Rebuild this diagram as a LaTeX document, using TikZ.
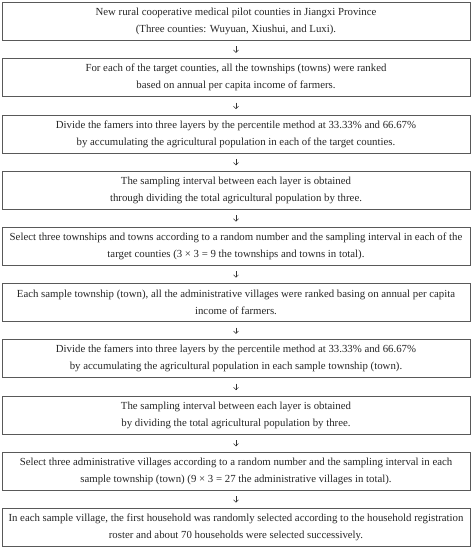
\documentclass[tikz,border=0pt]{standalone}
\usepackage{fontspec}
\setmainfont{Liberation Serif}
\usetikzlibrary{arrows.meta}
\tikzset{
  stepbox/.style={draw=black!65, line width=0.8pt, minimum width=468pt, minimum height=38pt,
    align=center, inner sep=0pt, text=black!85,
    font=\fontsize{10.8}{17}\selectfont},
  flowarrow/.style={draw=black!80, line width=0.5pt, shorten <=5.5pt, shorten >=5.5pt,
    -{Straight Barb[length=2.5pt,width=5pt]}}
}
\begin{document}
\begin{tikzpicture}[x=1pt,y=1pt]
\useasboundingbox (0,0) rectangle (472,-550);
\node[stepbox] (b1) at (236,-21.5) {New rural cooperative medical pilot counties in Jiangxi Province\\(Three counties: Wuyuan, Xiushui, and Luxi).};
\node[stepbox] (b2) at (236,-77.7) {For each of the target counties, all the townships (towns) were ranked\\based on annual per capita income of farmers.};
\node[stepbox] (b3) at (236,-133.9) {Divide the famers into three layers by the percentile method at 33.33\% and 66.67\%\\by accumulating the agricultural population in each of the target counties.};
\node[stepbox] (b4) at (236,-190.2) {The sampling interval between each layer is obtained\\through dividing the total agricultural population by three.};
\node[stepbox] (b5) at (236,-246.4) {Select three townships and towns according to a random number and the sampling interval in each of the\\target counties (3 × 3 = 9 the townships and towns in total).};
\node[stepbox] (b6) at (236,-302.6) {Each sample township (town), all the administrative villages were ranked basing on annual per capita\\income of farmers.};
\node[stepbox] (b7) at (236,-358.8) {Divide the famers into three layers by the percentile method at 33.33\% and 66.67\%\\by accumulating the agricultural population in each sample township (town).};
\node[stepbox] (b8) at (236,-415.1) {The sampling interval between each layer is obtained\\by dividing the total agricultural population by three.};
\node[stepbox] (b9) at (236,-471.3) {Select three administrative villages according to a random number and the sampling interval in each\\sample township (town) (9 × 3 = 27 the administrative villages in total).};
\node[stepbox] (b10) at (236,-527.5) {In each sample village, the first household was randomly selected according to the household registration\\roster and about 70 households were selected successively.};
\foreach \a/\b in {b1/b2,b2/b3,b3/b4,b4/b5,b5/b6,b6/b7,b7/b8,b8/b9,b9/b10}
  \draw[flowarrow] (\a) -- (\b);
\end{tikzpicture}
\end{document}
